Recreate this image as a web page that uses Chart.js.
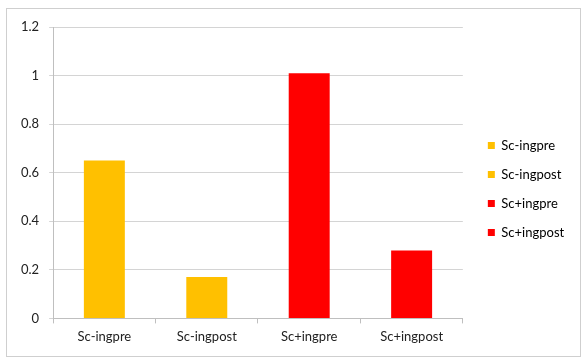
<!DOCTYPE html>
<html>
<head>
<meta charset="utf-8">
<script src="https://cdn.jsdelivr.net/npm/chart.js@4/dist/chart.umd.min.js"></script>
<style>
  html, body { margin: 0; padding: 0; background: #fff; }
  #wrap { position: relative; width: 585px; height: 358px; }
</style>
</head>
<body>
<div id="wrap"><canvas id="barChart"></canvas></div>
<script>
// Data
const categories = ['Sc-ingpre', 'Sc-ingpost', 'Sc+ingpre', 'Sc+ingpost'];
const values = [0.65, 0.17, 1.01, 0.28];
const barColors = ['#FFC000', '#FFC000', '#FF0000', '#FF0000'];
const yTicks = [0, 0.2, 0.4, 0.6, 0.8, 1, 1.2];

const gridColor = '#d4d4d4';
const textColor = '#222222';

Chart.defaults.font.family = "Lato, 'Open Sans', sans-serif";
Chart.defaults.font.size = 13;
Chart.defaults.color = textColor;

// thin grey frame round the whole chart
const framePlugin = {
    id: 'frame',
    beforeDraw(chart) {
        const ctx = chart.ctx;
        ctx.save();
        ctx.strokeStyle = '#cfcfcf';
        ctx.lineWidth = 1;
        ctx.strokeRect(6.5, 8.5, 574, 348);
        ctx.restore();
    }
};

new Chart(document.getElementById('barChart'), {
    type: 'bar',
    data: {
        labels: categories,
        datasets: [{
            data: values,
            backgroundColor: barColors,
            borderWidth: 0,
            categoryPercentage: 1,
            barPercentage: 0.4
        }]
    },
    options: {
        responsive: true,
        maintainAspectRatio: false,
        animation: false,
        layout: {
            padding: { left: 11, right: 21, top: 27, bottom: 7 }
        },
        plugins: {
            tooltip: { enabled: false },
            legend: {
                position: 'right',
                align: 'center',
                onClick: null,
                labels: {
                    boxWidth: 7,
                    boxHeight: 7,
                    padding: 16,
                    color: textColor,
                    generateLabels: (chart) => categories.map((c, i) => ({
                        text: c,
                        fillStyle: barColors[i],
                        strokeStyle: barColors[i],
                        lineWidth: 0,
                        index: i
                    }))
                }
            }
        },
        scales: {
            x: {
                grid: {
                    display: true,
                    drawOnChartArea: false,
                    drawTicks: true,
                    tickLength: 5,
                    color: '#bfbfbf',
                    offset: true
                },
                border: { color: '#bfbfbf' },
                ticks: { padding: 6, color: textColor }
            },
            y: {
                min: 0,
                max: 1.2,
                afterBuildTicks: (scale) => {
                    scale.ticks = yTicks.map(v => ({ value: v }));
                },
                grid: {
                    color: gridColor,
                    tickLength: 4
                },
                border: { color: '#bfbfbf' },
                ticks: {
                    padding: 10,
                    color: textColor,
                    callback: (v) => String(Math.round(v * 10) / 10)
                }
            },
            // empty spacer between plot and legend
            gap: {
                position: 'right',
                display: true,
                grid: { display: false },
                border: { display: false },
                ticks: { display: false },
                afterFit: (scale) => { scale.width = 9; }
            }
        }
    },
    plugins: [framePlugin]
});
</script>
</body>
</html>
